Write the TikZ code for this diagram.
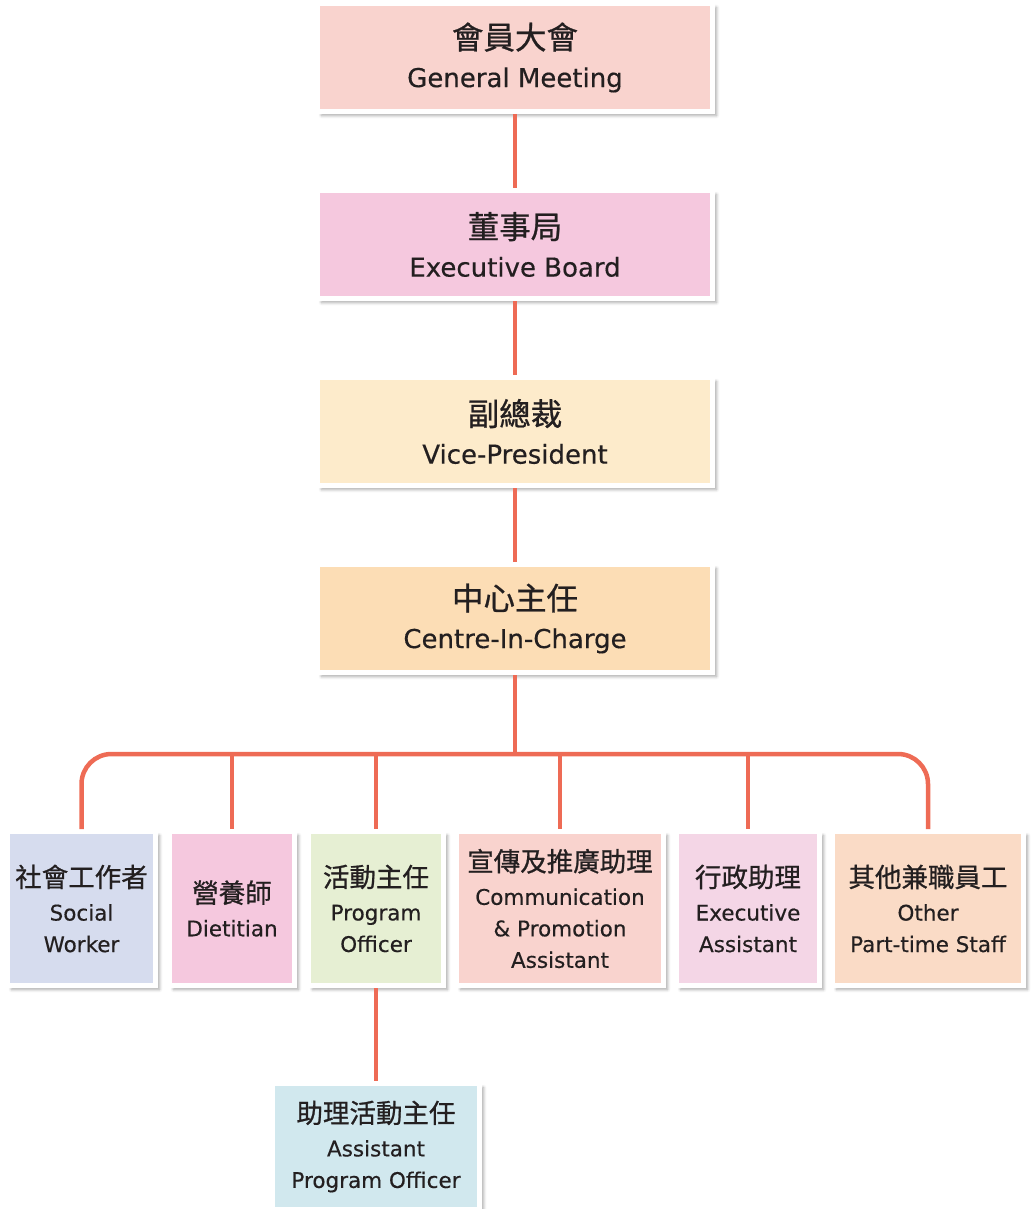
\documentclass[tikz,border=0pt]{standalone}
\usepackage{fontspec}
\setmainfont[FakeBold=0.4]{DejaVu Sans}
\newfontfamily\cjk[FakeBold=0.8]{Noto Sans CJK TC}
\usetikzlibrary{shadows.blur}
\definecolor{linecol}{HTML}{EE6B55}
\definecolor{txt}{HTML}{231F20}
\definecolor{cgm}{HTML}{F9D3CE}
\definecolor{ceb}{HTML}{F5C8DE}
\definecolor{cvp}{HTML}{FDEBCB}
\definecolor{ccic}{HTML}{FCDDB5}
\definecolor{csw}{HTML}{D6DCEE}
\definecolor{cdiet}{HTML}{F5C8DE}
\definecolor{cprog}{HTML}{E6EFD3}
\definecolor{ccomm}{HTML}{F9D3CE}
\definecolor{cexec}{HTML}{F4D6E6}
\definecolor{coth}{HTML}{FADBC6}
\definecolor{capo}{HTML}{D1E8EE}
\newcommand\topcjk[1]{{\cjk\fontsize{31.5}{38}\selectfont #1}}
\newcommand\lowcjk[1]{{\cjk\fontsize{26.5}{31}\selectfont #1}}
\tikzset{
  box/.style={draw=white, line width=5pt, inner sep=0pt, align=center, text=txt,
    blur shadow={shadow xshift=4pt, shadow yshift=-4pt, shadow blur radius=3pt,
      shadow blur steps=6, shadow opacity=35}},
  topbox/.style={box, minimum width=395pt, minimum height=108pt,
    font=\fontsize{26}{38}\selectfont},
  lowbox/.style={box, minimum height=154pt, font=\fontsize{21.5}{31.5}\selectfont},
  connline/.style={draw=linecol, line width=4.5pt},
}
\begin{document}
\begin{tikzpicture}[x=1pt,y=-1pt]
\useasboundingbox (0,0) rectangle (1033,1209);
\node[topbox, fill=cgm] (gm) at (515,57.5) {\topcjk{會員大會}\\General Meeting};
\node[topbox, fill=ceb] (eb) at (515,244.5) {\topcjk{董事局}\\Executive Board};
\node[topbox, fill=cvp] (vp) at (515,431.5) {\topcjk{副總裁}\\Vice-President};
\node[topbox, fill=ccic] (cic) at (515,618.5) {\topcjk{中心主任}\\Centre-In-Charge};

\node[lowbox, fill=csw, minimum width=148pt] (sw) at (81.5,908.5) {\lowcjk{社會工作者}\\[2pt]Social\\Worker};
\node[lowbox, fill=cdiet, minimum width=125pt] (diet) at (232,908.5) {\lowcjk{營養師}\\[2pt]Dietitian};
\node[lowbox, fill=cprog, minimum width=135pt] (prog) at (376,908.5) {\lowcjk{活動主任}\\[2pt]Program\\Officer};
\node[lowbox, fill=ccomm, minimum width=207pt] (comm) at (560,908.5) {\lowcjk{宣傳及推廣助理}\\[2pt]Communication\\\&~Promotion\\Assistant};
\node[lowbox, fill=cexec, minimum width=143pt] (exec) at (748,908.5) {\lowcjk{行政助理}\\[2pt]Executive\\Assistant};
\node[lowbox, fill=coth, minimum width=191pt] (oth) at (928,908.5) {\lowcjk{其他兼職員工}\\[2pt]Other\\Part-time Staff};

\node[box, fill=capo, minimum width=207pt, minimum height=126pt, font=\fontsize{21.5}{31.5}\selectfont] (apo) at (376,1146.5) {\lowcjk{助理活動主任}\\[2pt]Assistant\\Program Officer};

\coordinate (bus) at (515,754);
\draw[connline] (gm.south) -- (eb.north);
\draw[connline] (eb.south) -- (vp.north);
\draw[connline] (vp.south) -- (cic.north);
\draw[connline] (cic.south) -- (cic.south |- bus);
\draw[connline, rounded corners=30pt] (sw.north) -- (sw.north |- bus) -- (oth.north |- bus) -- (oth.north);
\draw[connline] (diet.north |- bus) -- (diet.north);
\draw[connline] (prog.north |- bus) -- (prog.north);
\draw[connline] (comm.north |- bus) -- (comm.north);
\draw[connline] (exec.north |- bus) -- (exec.north);
\draw[connline] (prog.south) -- (apo.north);
\end{tikzpicture}
\end{document}
